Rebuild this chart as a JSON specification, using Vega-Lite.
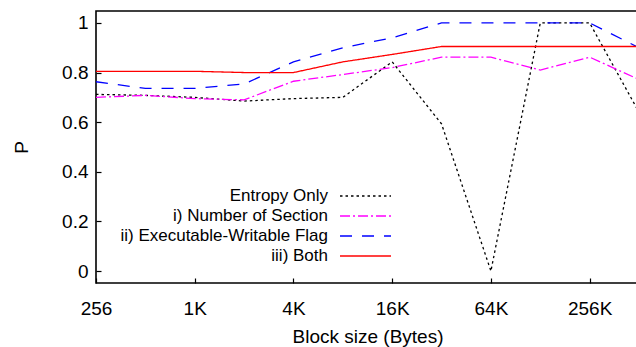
{
  "$schema": "https://vega.github.io/schema/vega-lite/v6.json",
  "autosize": "none",
  "width": 543,
  "height": 272,
  "padding": {"left": 96, "top": 11, "right": 0, "bottom": 64},
  "background": "white",
  "config": {
    "view": {"stroke": "black", "strokeWidth": 1.6},
    "font": "Liberation Sans",
    "axis": {
      "domain": false,
      "grid": false,
      "tickColor": "black",
      "tickSize": -5,
      "tickWidth": 1.2,
      "labelFont": "Liberation Sans",
      "labelFontSize": 19,
      "labelColor": "black",
      "titleFont": "Liberation Sans",
      "titleFontSize": 19,
      "titleFontWeight": "normal",
      "titleColor": "black"
    }
  },
  "data": {
    "values": [
      {"size": 256, "series": "Entropy Only", "p": 0.712},
      {"size": 512, "series": "Entropy Only", "p": 0.708},
      {"size": 1024, "series": "Entropy Only", "p": 0.7},
      {"size": 2048, "series": "Entropy Only", "p": 0.685},
      {"size": 4096, "series": "Entropy Only", "p": 0.695},
      {"size": 8192, "series": "Entropy Only", "p": 0.7},
      {"size": 16384, "series": "Entropy Only", "p": 0.843},
      {"size": 32768, "series": "Entropy Only", "p": 0.593},
      {"size": 65536, "series": "Entropy Only", "p": 0.0},
      {"size": 131072, "series": "Entropy Only", "p": 1.0},
      {"size": 262144, "series": "Entropy Only", "p": 1.0},
      {"size": 524288, "series": "Entropy Only", "p": 0.64},
      {"size": 256, "series": "i) Number of Section", "p": 0.7},
      {"size": 512, "series": "i) Number of Section", "p": 0.708},
      {"size": 1024, "series": "i) Number of Section", "p": 0.695},
      {"size": 2048, "series": "i) Number of Section", "p": 0.69},
      {"size": 4096, "series": "i) Number of Section", "p": 0.765},
      {"size": 8192, "series": "i) Number of Section", "p": 0.792},
      {"size": 16384, "series": "i) Number of Section", "p": 0.82},
      {"size": 32768, "series": "i) Number of Section", "p": 0.862},
      {"size": 65536, "series": "i) Number of Section", "p": 0.862},
      {"size": 131072, "series": "i) Number of Section", "p": 0.81},
      {"size": 262144, "series": "i) Number of Section", "p": 0.862},
      {"size": 524288, "series": "i) Number of Section", "p": 0.772},
      {"size": 256, "series": "ii) Executable-Writable Flag", "p": 0.763},
      {"size": 512, "series": "ii) Executable-Writable Flag", "p": 0.736},
      {"size": 1024, "series": "ii) Executable-Writable Flag", "p": 0.736},
      {"size": 2048, "series": "ii) Executable-Writable Flag", "p": 0.754},
      {"size": 4096, "series": "ii) Executable-Writable Flag", "p": 0.843},
      {"size": 8192, "series": "ii) Executable-Writable Flag", "p": 0.9},
      {"size": 16384, "series": "ii) Executable-Writable Flag", "p": 0.94},
      {"size": 32768, "series": "ii) Executable-Writable Flag", "p": 1.0},
      {"size": 65536, "series": "ii) Executable-Writable Flag", "p": 1.0},
      {"size": 131072, "series": "ii) Executable-Writable Flag", "p": 1.0},
      {"size": 262144, "series": "ii) Executable-Writable Flag", "p": 1.0},
      {"size": 524288, "series": "ii) Executable-Writable Flag", "p": 0.9},
      {"size": 256, "series": "iii) Both", "p": 0.805},
      {"size": 512, "series": "iii) Both", "p": 0.805},
      {"size": 1024, "series": "iii) Both", "p": 0.805},
      {"size": 2048, "series": "iii) Both", "p": 0.8},
      {"size": 4096, "series": "iii) Both", "p": 0.8},
      {"size": 8192, "series": "iii) Both", "p": 0.843},
      {"size": 16384, "series": "iii) Both", "p": 0.873},
      {"size": 32768, "series": "iii) Both", "p": 0.905},
      {"size": 65536, "series": "iii) Both", "p": 0.905},
      {"size": 131072, "series": "iii) Both", "p": 0.905},
      {"size": 262144, "series": "iii) Both", "p": 0.905},
      {"size": 524288, "series": "iii) Both", "p": 0.905}
    ]
  },
  "mark": {"type": "line", "clip": true},
  "encoding": {
    "x": {
      "field": "size",
      "type": "quantitative",
      "scale": {"type": "log", "base": 2, "domain": [256, 524288], "nice": false},
      "axis": {
        "title": "Block size (Bytes)",
        "values": [256, 1024, 4096, 16384, 65536, 262144],
        "labelExpr": "datum.value >= 1024 ? (datum.value / 1024) + 'K' : '' + datum.value",
        "labelPadding": 21,
        "titlePadding": 9,
        "labelFlush": false
      }
    },
    "y": {
      "field": "p",
      "type": "quantitative",
      "scale": {"domain": [-0.048, 1.048], "nice": false, "zero": false},
      "axis": {
        "title": "P",
        "values": [0, 0.2, 0.4, 0.6, 0.8, 1],
        "format": "~g",
        "labelPadding": 13,
        "titlePadding": 30,
        "labelFlush": false
      }
    },
    "color": {
      "field": "series",
      "type": "nominal",
      "scale": {
        "domain": ["Entropy Only", "i) Number of Section", "ii) Executable-Writable Flag", "iii) Both"],
        "range": ["#000000", "#ff00ff", "#0000ff", "#ff0000"]
      },
      "legend": {
        "title": null,
        "orient": "none",
        "legendX": 244,
        "legendY": 175,
        "symbolType": "stroke",
        "symbolSize": 2600,
        "labelFont": "Liberation Sans",
        "labelFontSize": 17,
        "labelColor": "black",
        "labelLimit": 400,
        "clipHeight": 20,
        "rowPadding": 0,
        "padding": 0,
        "encode": {
          "entries": {"update": {"width": {"value": 60}, "height": {"value": 20}}},
          "labels": {"update": {"x": {"value": -12}, "align": {"value": "right"}}},
          "symbols": {"update": {"x": {"value": 25.5}, "y": {"value": 10}}}
        }
      }
    },
    "strokeDash": {
      "field": "series",
      "type": "nominal",
      "scale": {
        "domain": ["Entropy Only", "i) Number of Section", "ii) Executable-Writable Flag", "iii) Both"],
        "range": [[2.5, 3], [10, 3, 2, 3], [12, 10], [1, 0]]
      }
    },
    "strokeWidth": {
      "field": "series",
      "type": "nominal",
      "scale": {
        "domain": ["Entropy Only", "i) Number of Section", "ii) Executable-Writable Flag", "iii) Both"],
        "range": [1.3, 1.3, 1.3, 2.6]
      }
    }
  }
}
